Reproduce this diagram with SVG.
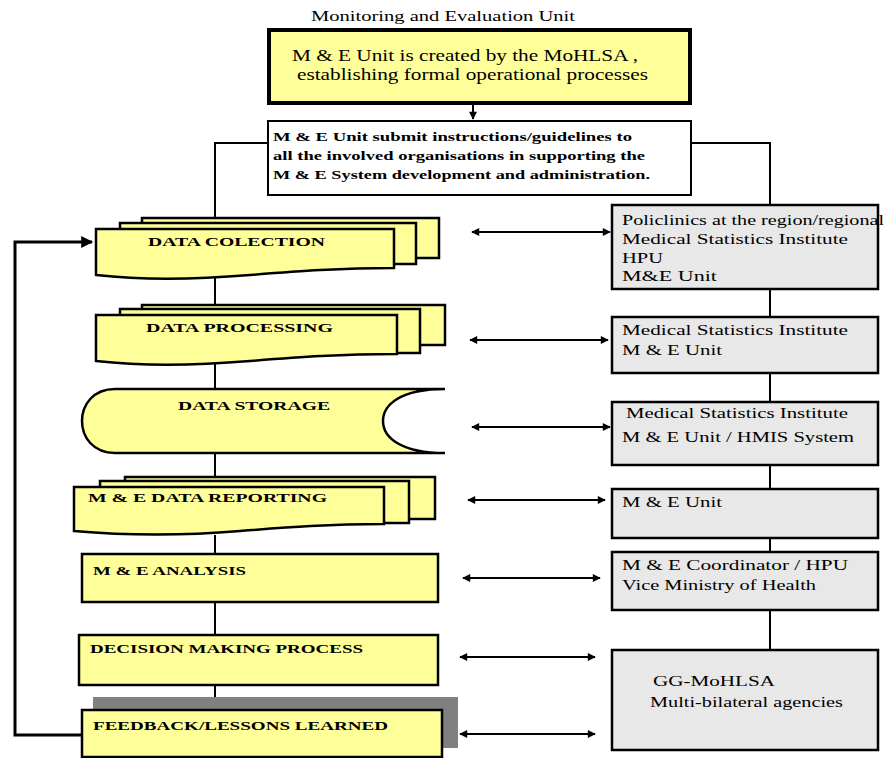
<svg xmlns="http://www.w3.org/2000/svg" width="884" height="758" viewBox="0 0 884 758">
<defs>
<style>
.y{fill:#ffff99;stroke:#000;stroke-width:2.5}
.g{fill:#e8e8e8;stroke:#000;stroke-width:2.5}
.w{fill:#fff;stroke:#000;stroke-width:2}
.c{fill:none;stroke:#000;stroke-width:2}
.t{font-family:"Liberation Serif","Times New Roman",serif;fill:#000}
.l{font-size:13px;font-weight:bold}
.r{font-size:14px}
</style>
<marker id="ah" viewBox="0 0 10 10" refX="9" refY="5" markerWidth="4.5" markerHeight="4" orient="auto-start-reverse" markerUnits="strokeWidth">
<path d="M0,0 L10,5 L0,10 Z" fill="#000"/>
</marker>
</defs>
<rect width="884" height="758" fill="#fff"/>

<text class="t" x="311" y="21" font-size="14" textLength="264" lengthAdjust="spacingAndGlyphs">Monitoring and Evaluation Unit</text>

<g id="connectors">
<line class="c" x1="473" y1="104" x2="473" y2="119" marker-end="url(#ah)"/>
<polyline class="c" points="268,143 215,143 215,218"/>
<polyline class="c" points="692,143 770,143 770,205"/>
<line class="c" x1="215" y1="278" x2="215" y2="305"/>
<line class="c" x1="215" y1="364" x2="215" y2="389"/>
<line class="c" x1="215" y1="453" x2="215" y2="477"/>
<line class="c" x1="215" y1="535" x2="215" y2="554"/>
<line class="c" x1="215" y1="602" x2="215" y2="635"/>
<line class="c" x1="215" y1="685" x2="215" y2="697"/>
<line class="c" x1="770" y1="289" x2="770" y2="317"/>
<line class="c" x1="770" y1="373" x2="770" y2="402"/>
<line class="c" x1="770" y1="465" x2="770" y2="489"/>
<line class="c" x1="770" y1="538" x2="770" y2="552"/>
<line class="c" x1="770" y1="610" x2="770" y2="650"/>
<polyline fill="none" stroke="#000" stroke-width="3" points="82,735 15,735 15,242 92,242" marker-end="url(#ah)"/>
<line class="c" x1="472" y1="232" x2="610" y2="232" marker-start="url(#ah)" marker-end="url(#ah)"/>
<line class="c" x1="470" y1="340" x2="608" y2="340" marker-start="url(#ah)" marker-end="url(#ah)"/>
<line class="c" x1="472" y1="427" x2="610" y2="427" marker-start="url(#ah)" marker-end="url(#ah)"/>
<line class="c" x1="468" y1="500" x2="605" y2="500" marker-start="url(#ah)" marker-end="url(#ah)"/>
<line class="c" x1="463" y1="578" x2="600" y2="578" marker-start="url(#ah)" marker-end="url(#ah)"/>
<line class="c" x1="460" y1="657" x2="595" y2="657" marker-start="url(#ah)" marker-end="url(#ah)"/>
<line class="c" x1="460" y1="734" x2="595" y2="734" marker-start="url(#ah)" marker-end="url(#ah)"/>
</g>

<g id="unit">
<rect x="269" y="30" width="421" height="73" fill="#ffff99" stroke="#000" stroke-width="4"/>
<text class="t" x="292" y="61" font-size="16" textLength="346" lengthAdjust="spacingAndGlyphs">M &amp; E Unit is created by the MoHLSA ,</text>
<text class="t" x="297" y="80" font-size="16" textLength="351" lengthAdjust="spacingAndGlyphs">establishing formal operational processes</text>
</g>

<g id="instructions">
<rect class="w" x="268" y="121" width="423" height="74"/>
<text class="t" x="273" y="141" font-size="13" font-weight="bold" textLength="359" lengthAdjust="spacingAndGlyphs">M &amp; E Unit submit instructions/guidelines to</text>
<text class="t" x="273" y="160" font-size="13" font-weight="bold" textLength="372" lengthAdjust="spacingAndGlyphs">all the involved organisations in supporting the</text>
<text class="t" x="273" y="179" font-size="13" font-weight="bold" textLength="377" lengthAdjust="spacingAndGlyphs">M &amp; E System development and administration.</text>
</g>

<g id="collection">
<rect class="y" x="142" y="218" width="297" height="40"/>
<rect class="y" x="120" y="223" width="296" height="41"/>
<path class="y" d="M96,229 H394 V268 C340,268 300,271 250,275 C190,280 140,280 96,275 Z"/>
<text class="t l" x="148" y="246" textLength="177" lengthAdjust="spacingAndGlyphs">DATA COLECTION</text>
</g>

<g id="processing">
<rect class="y" x="142" y="305" width="303" height="40"/>
<rect class="y" x="120" y="309" width="300" height="44"/>
<path class="y" d="M96,315 H397 V354 C340,354 300,357 250,361 C190,366 140,366 96,361 Z"/>
<text class="t l" x="146" y="332" textLength="187" lengthAdjust="spacingAndGlyphs">DATA PROCESSING</text>
</g>

<g id="storage">
<path class="y" d="M115,389 H445 C400,389 383,405 383,421 C383,437 400,453 445,453 H115 C93,453 82,437 82,421 C82,405 93,389 115,389 Z"/>
<text class="t l" x="178" y="410" textLength="152" lengthAdjust="spacingAndGlyphs">DATA STORAGE</text>
</g>

<g id="reporting">
<rect class="y" x="125" y="477" width="310" height="42"/>
<rect class="y" x="100" y="481" width="309" height="42"/>
<path class="y" d="M74,487 H384 V524 C330,524 290,527 240,531 C180,536 120,535 74,531 Z"/>
<text class="t l" x="88" y="502" textLength="239" lengthAdjust="spacingAndGlyphs">M &amp; E DATA REPORTING</text>
</g>

<g id="analysis">
<rect class="y" x="82" y="554" width="356" height="48"/>
<text class="t l" x="93" y="575" textLength="153" lengthAdjust="spacingAndGlyphs">M &amp; E ANALYSIS</text>
</g>

<g id="decision">
<rect class="y" x="79" y="635" width="359" height="50"/>
<text class="t l" x="90" y="653" textLength="273" lengthAdjust="spacingAndGlyphs">DECISION MAKING PROCESS</text>
</g>

<g id="feedback">
<rect x="93" y="697" width="365" height="51" fill="#808080"/>
<rect class="y" x="82" y="710" width="360" height="47"/>
<text class="t l" x="93" y="730" textLength="295" lengthAdjust="spacingAndGlyphs">FEEDBACK/LESSONS LEARNED</text>
</g>

<g id="actors1">
<rect class="g" x="612" y="205" width="266" height="84"/>
<text class="t r" x="622" y="225" textLength="262" lengthAdjust="spacingAndGlyphs">Policlinics at the region/regional</text>
<text class="t r" x="622" y="244" textLength="226" lengthAdjust="spacingAndGlyphs">Medical Statistics Institute</text>
<text class="t r" x="622" y="263" textLength="41" lengthAdjust="spacingAndGlyphs">HPU</text>
<text class="t r" x="622" y="281" textLength="95" lengthAdjust="spacingAndGlyphs">M&amp;E Unit</text>
</g>

<g id="actors2">
<rect class="g" x="612" y="317" width="266" height="56"/>
<text class="t r" x="622" y="335" textLength="226" lengthAdjust="spacingAndGlyphs">Medical Statistics Institute</text>
<text class="t r" x="622" y="355" textLength="100" lengthAdjust="spacingAndGlyphs">M &amp; E Unit</text>
</g>

<g id="actors3">
<rect class="g" x="612" y="402" width="266" height="63"/>
<text class="t r" x="626" y="418" textLength="222" lengthAdjust="spacingAndGlyphs">Medical Statistics Institute</text>
<text class="t r" x="622" y="442" textLength="232" lengthAdjust="spacingAndGlyphs">M &amp; E Unit / HMIS System</text>
</g>

<g id="actors4">
<rect class="g" x="612" y="489" width="266" height="49"/>
<text class="t r" x="622" y="507" textLength="100" lengthAdjust="spacingAndGlyphs">M &amp; E Unit</text>
</g>

<g id="actors5">
<rect class="g" x="612" y="552" width="266" height="58"/>
<text class="t r" x="622" y="570" textLength="226" lengthAdjust="spacingAndGlyphs">M &amp; E Coordinator / HPU</text>
<text class="t r" x="622" y="590" textLength="194" lengthAdjust="spacingAndGlyphs">Vice Ministry of Health</text>
</g>

<g id="actors6">
<rect class="g" x="612" y="650" width="266" height="100"/>
<text class="t r" x="653" y="686" textLength="122" lengthAdjust="spacingAndGlyphs">GG-MoHLSA</text>
<text class="t r" x="650" y="707" textLength="193" lengthAdjust="spacingAndGlyphs">Multi-bilateral agencies</text>
</g>
</svg>
